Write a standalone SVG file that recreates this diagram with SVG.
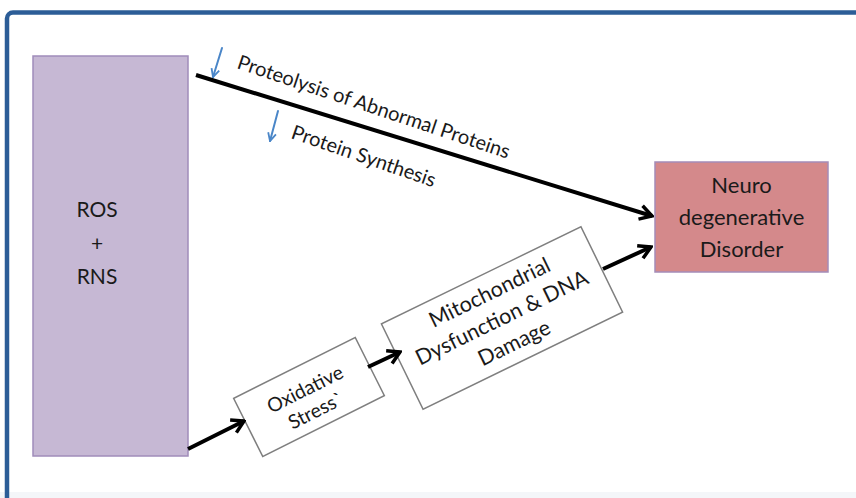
<svg xmlns="http://www.w3.org/2000/svg" width="856" height="498" viewBox="0 0 856 498">
<defs>
<style>
.t{font-family:Lato,"Open Sans","Liberation Sans",sans-serif;fill:#1a1a1a}
.c{stroke:#000;stroke-width:4;fill:none}
.b{stroke:#4a86c8;stroke-width:2;fill:none;stroke-linecap:round}
.w{fill:#fff;stroke:#7f7f7f;stroke-width:1.5}
</style>
<marker id="ah" viewBox="0 0 16 18" refX="14" refY="9" markerWidth="16" markerHeight="18" markerUnits="userSpaceOnUse" orient="auto">
<path d="M2,2 L14,9 L2,16" fill="none" stroke="#000" stroke-width="3.5" stroke-linejoin="miter"/>
</marker>
<marker id="bh" viewBox="0 0 10 10" refX="9" refY="5" markerWidth="10" markerHeight="10" markerUnits="userSpaceOnUse" orient="auto">
<path d="M1,1 L9,5 L1,9" fill="none" stroke="#4a86c8" stroke-width="1.8"/>
</marker>
</defs>
<rect width="856" height="498" fill="#fff"/>
<rect x="0" y="492" width="856" height="6" fill="#f4f6f9"/>
<rect x="7" y="12.5" width="900" height="540" rx="6" fill="none" stroke="#2c5d97" stroke-width="4.5"/>

<g id="ros">
<rect x="33" y="56" width="155" height="400" fill="#c6b8d4" stroke="#a08cba" stroke-width="1.5"/>
<text class="t" font-size="21" text-anchor="middle"><tspan x="97" y="217">ROS</tspan><tspan x="97" y="251">+</tspan><tspan x="97" y="284">RNS</tspan></text>
</g>

<g id="neuro">
<rect x="655" y="162" width="173" height="110" fill="#d4898b" stroke="#a48cb8" stroke-width="1.5"/>
<text class="t" font-size="22" text-anchor="middle"><tspan x="741.5" y="193">Neuro</tspan><tspan x="741.5" y="225">degenerative</tspan><tspan x="741.5" y="257">Disorder</tspan></text>
</g>

<g id="oxidative" transform="translate(309 397) rotate(-26.6)">
<rect class="w" x="-68" y="-32.5" width="136" height="65"/>
<text class="t" font-size="19.5" text-anchor="middle"><tspan x="0" y="-2">Oxidative</tspan><tspan x="0" y="22">Stress`</tspan></text>
</g>

<g id="mito" transform="translate(502 318) rotate(-26)">
<rect class="w" x="-111" y="-47.5" width="222" height="95"/>
<text class="t" font-size="21.5" text-anchor="middle"><tspan x="0" y="-21">Mitochondrial</tspan><tspan x="0" y="7">Dysfunction &amp; DNA</tspan><tspan x="0" y="35">Damage</tspan></text>
</g>

<g id="labels">
<text class="t" font-size="20" transform="translate(236 68) rotate(18.5)">Proteolysis of Abnormal Proteins</text>
<text class="t" font-size="20" transform="translate(290 138) rotate(19)">Protein Synthesis</text>
</g>

<g id="connectors">
<line class="c" x1="196" y1="75" x2="652" y2="216" marker-end="url(#ah)"/>
<line class="c" x1="188" y1="449" x2="244" y2="421" marker-end="url(#ah)"/>
<line class="c" x1="368" y1="367" x2="400" y2="352" marker-end="url(#ah)"/>
<line class="c" x1="603" y1="269" x2="651" y2="247" marker-end="url(#ah)"/>
<line class="b" x1="222" y1="48" x2="213" y2="77" marker-end="url(#bh)"/>
<line class="b" x1="278" y1="111" x2="270" y2="141" marker-end="url(#bh)"/>
</g>
</svg>
